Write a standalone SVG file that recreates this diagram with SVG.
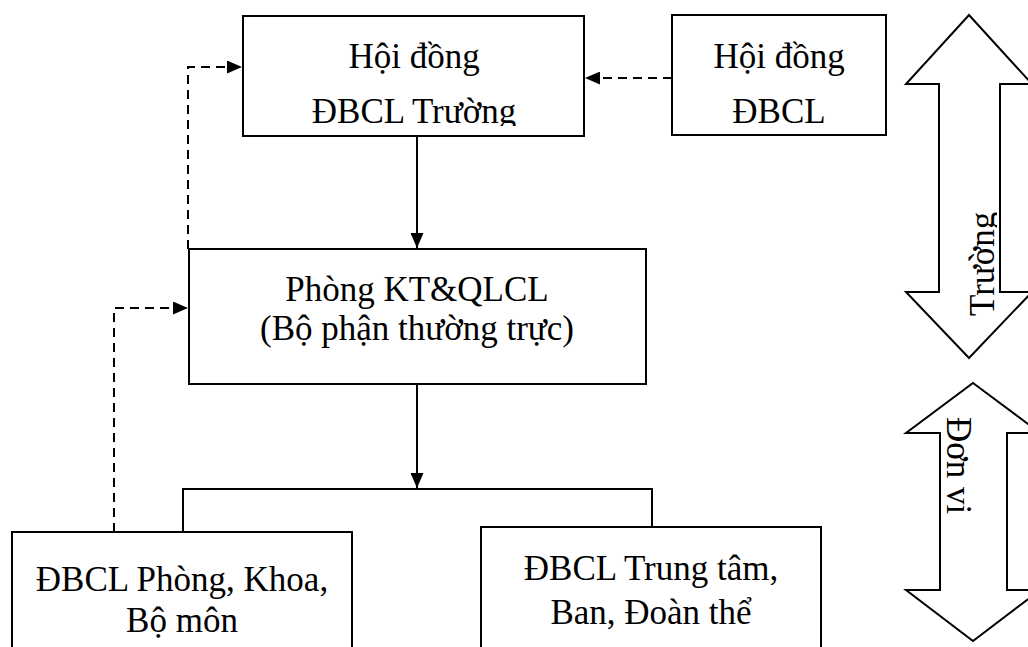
<svg xmlns="http://www.w3.org/2000/svg" width="1028" height="647" viewBox="0 0 1028 647">
<style>
.box{fill:#fff;stroke:#000;stroke-width:2}
.t{font-family:"Liberation Serif","Times New Roman",serif;font-size:35px;fill:#000}
.c{text-anchor:middle}
.ln{fill:none;stroke:#000;stroke-width:2}
.dash{fill:none;stroke:#000;stroke-width:2;stroke-dasharray:9 6}
.arr{fill:#fff;stroke:#000;stroke-width:2;stroke-linejoin:miter}
</style>
<defs>
<marker id="ah" viewBox="0 0 15 13" refX="15" refY="6.5" markerWidth="15" markerHeight="13" markerUnits="userSpaceOnUse" orient="auto">
<path d="M0,0 L15,6.5 L0,13 Z" fill="#000"/>
</marker>
<clipPath id="clipTop"><rect x="243" y="16" width="341" height="110"/></clipPath>
<clipPath id="clipTruong"><rect x="940" y="15" width="57" height="343"/></clipPath>
<clipPath id="clipDonvi"><rect x="946" y="383" width="61" height="258"/></clipPath>
</defs>

<g id="connectors">
<line class="ln" x1="417" y1="137" x2="417" y2="248" marker-end="url(#ah)"/>
<line class="ln" x1="417" y1="385" x2="417" y2="488" marker-end="url(#ah)"/>
<path class="ln" d="M183,532 L183,489 L652,489 L652,527"/>
<path class="dash" d="M188,249 L188,67 L242,67" marker-end="url(#ah)"/>
<path class="dash" d="M114,532 L114,308 L188,308" marker-end="url(#ah)"/>
<path class="dash" d="M672,78 L585,78" marker-end="url(#ah)"/>
</g>

<g id="hoidong-truong">
<rect class="box" x="243" y="16" width="341" height="120"/>
<text class="t c" x="414" y="68">Hội đồng</text>
<text class="t c" x="414" y="123" clip-path="url(#clipTop)">ĐBCL Trường</text>
</g>

<g id="hoidong-dbcl">
<rect class="box" x="672" y="15" width="214" height="120"/>
<text class="t c" x="779" y="68">Hội đồng</text>
<text class="t c" x="779" y="123">ĐBCL</text>
</g>

<g id="phong-ktqlcl">
<rect class="box" x="189" y="249" width="457" height="135"/>
<text class="t c" x="417" y="301">Phòng KT&amp;QLCL</text>
<text class="t c" x="417" y="340">(Bộ phận thường trực)</text>
</g>

<g id="dbcl-phong-khoa">
<rect class="box" x="12" y="532" width="340" height="140"/>
<text class="t c" x="182" y="591">ĐBCL Phòng, Khoa,</text>
<text class="t c" x="182" y="632">Bộ môn</text>
</g>

<g id="dbcl-trung-tam">
<rect class="box" x="481" y="527" width="340" height="140"/>
<text class="t c" x="651" y="580">ĐBCL Trung tâm,</text>
<text class="t c" x="651" y="624">Ban, Đoàn thể</text>
</g>

<g id="arrow-truong">
<path class="arr" d="M969,15 L1032,84 L1000,84 L1000,292 L1032,292 L969,358 L906,292 L939,292 L939,84 L906,84 Z"/>
<g clip-path="url(#clipTruong)">
<text class="t" transform="translate(994,316) rotate(-90)">Trường</text>
</g>
</g>

<g id="arrow-donvi">
<path class="arr" d="M973,383 L1040,433 L1007,433 L1007,590 L1040,590 L973,641 L906,590 L940,590 L940,433 L906,433 Z"/>
<g clip-path="url(#clipDonvi)">
<text class="t" transform="translate(947,417) rotate(90)">Đơn vị</text>
</g>
</g>
</svg>
